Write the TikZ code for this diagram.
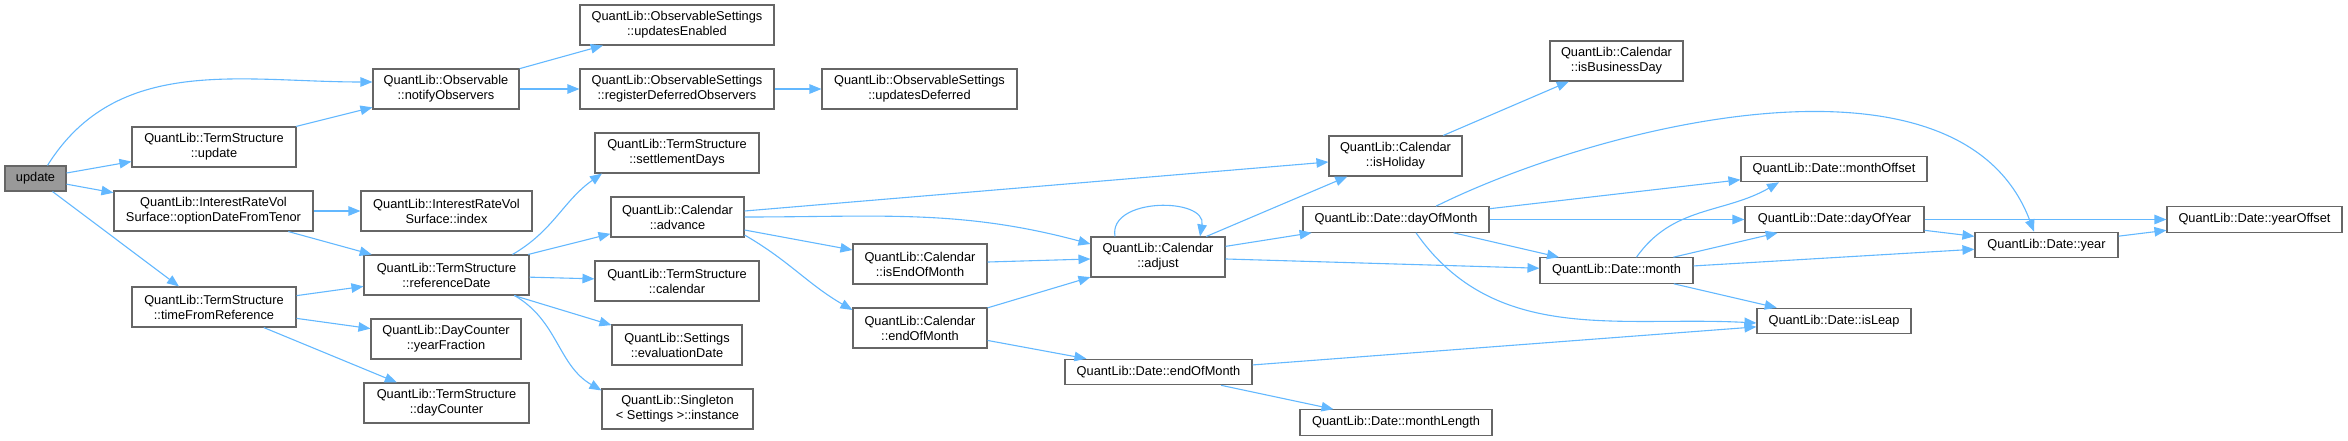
\documentclass[tikz,border=0pt]{standalone}
\usepackage{fontspec}
\setmainfont{Liberation Sans}
\usetikzlibrary{arrows.meta}
\usepackage{xcolor}
\definecolor{edgeblue}{HTML}{63B8FF}
\definecolor{boxgrey}{HTML}{666666}
\definecolor{rootgrey}{HTML}{999999}
\newcommand{\fn}[6][]{% name x y width: doxygen box
  \node[fn,minimum width=#5pt,#1] (#2) at (#3,#4) {#6};}

\begin{document}
\begin{tikzpicture}[x=1pt,y=-1pt,
  fn/.style={draw=boxgrey,line width=1.1pt,fill=white,align=center,inner sep=0pt,
    minimum height=40pt,font=\fontsize{12.8}{15}\selectfont},
  oneline/.style={minimum height=25.5pt},
  root/.style={fill=rootgrey,minimum height=25pt},
  call/.style={draw=edgeblue,line width=1.1pt,-{Triangle[length=12pt,width=9.5pt]}}]
  \useasboundingbox (0,0) rectangle (2348,441);
  \fn[root]{upd}{35.5}{178.5}{61}{update}
  \fn{tsUpdate}{214}{147}{164}{QuantLib::TermStructure\\::update}
  \fn{notify}{446}{89}{146}{QuantLib::Observable\\::notifyObservers}
  \fn{updEnabled}{677}{25}{194}{QuantLib::ObservableSettings\\::updatesEnabled}
  \fn{regDeferred}{677}{89}{194}{QuantLib::ObservableSettings\\::registerDeferredObservers}
  \fn{updDeferred}{919.5}{89}{195}{QuantLib::ObservableSettings\\::updatesDeferred}
  \fn{optDate}{213.5}{211}{199}{QuantLib::InterestRateVol\\Surface::optionDateFromTenor}
  \fn{volIndex}{446.5}{211}{171}{QuantLib::InterestRateVol\\Surface::index}
  \fn{refDate}{446.5}{275}{165}{QuantLib::TermStructure\\::referenceDate}
  \fn{timeFromRef}{214}{307}{164}{QuantLib::TermStructure\\::timeFromReference}
  \fn{yearFrac}{446}{339}{150}{QuantLib::DayCounter\\::yearFraction}
  \fn{dayCounter}{446.5}{403}{165}{QuantLib::TermStructure\\::dayCounter}
  \fn{settleDays}{677}{153}{164}{QuantLib::TermStructure\\::settlementDays}
  \fn{advance}{677.5}{217}{133}{QuantLib::Calendar\\::advance}
  \fn{tsCalendar}{677}{281}{164}{QuantLib::TermStructure\\::calendar}
  \fn{evalDate}{677}{345}{130}{QuantLib::Settings\\::evaluationDate}
  \fn{instance}{677.5}{409}{151}{QuantLib::Singleton\\< Settings >::instance}
  \fn{isEOM}{920}{264}{134}{QuantLib::Calendar\\::isEndOfMonth}
  \fn{calEOM}{920}{328}{134}{QuantLib::Calendar\\::endOfMonth}
  \fn{adjust}{1158}{257}{134}{QuantLib::Calendar\\::adjust}
  \fn[oneline]{dateEOM}{1158.5}{372}{187}{QuantLib::Date::endOfMonth}
  \fn{isHoliday}{1395.5}{156}{133}{QuantLib::Calendar\\::isHoliday}
  \fn{isBusDay}{1616.5}{61}{133}{QuantLib::Calendar\\::isBusinessDay}
  \fn[oneline]{dayOfMonth}{1396}{219.5}{186}{QuantLib::Date::dayOfMonth}
  \fn[oneline]{monthLength}{1396}{422.5}{192}{QuantLib::Date::monthLength}
  \fn[oneline]{month}{1616.5}{270.5}{153}{QuantLib::Date::month}
  \fn[oneline]{monthOffset}{1834}{169}{186}{QuantLib::Date::monthOffset}
  \fn[oneline]{dayOfYear}{1834.5}{219.5}{179}{QuantLib::Date::dayOfYear}
  \fn[oneline]{isLeap}{1834}{321}{154}{QuantLib::Date::isLeap}
  \fn[oneline]{year}{2046.5}{245}{143}{QuantLib::Date::year}
  \fn[oneline]{yearOffset}{2254.5}{219.5}{175}{QuantLib::Date::yearOffset}
  % calls
  \draw[call] ([xshift=12pt]upd.north) to[out=58,in=180] ([yshift=7pt]notify.west);
  \draw[call] (upd) -- (tsUpdate);
  \draw[call] (upd) -- (optDate);
  \draw[call] ([xshift=17pt]upd.south) -- ([xshift=-35pt]timeFromRef.north);
  \draw[call] (tsUpdate) -- (notify);
  \draw[call] (notify) -- (updEnabled);
  \draw[call] (notify) -- (regDeferred);
  \draw[call] (regDeferred) -- (updDeferred);
  \draw[call] (optDate) -- (volIndex);
  \draw[call] (optDate) -- (refDate);
  \draw[call] (timeFromRef) -- (refDate);
  \draw[call] (timeFromRef) -- (yearFrac);
  \draw[call] (timeFromRef) -- (dayCounter);
  \draw[call] ([xshift=66pt]refDate.north) to[out=30,in=215] ([xshift=-75pt]settleDays.south);
  \draw[call] (refDate) -- (advance);
  \draw[call] (refDate) -- (tsCalendar);
  \draw[call] (refDate) -- (evalDate);
  \draw[call] ([xshift=68pt]refDate.south) to[out=-30,in=150] ([yshift=-2pt]instance.north west);
  \draw[call] ([yshift=6pt]advance.east) -- ([yshift=-6pt]isHoliday.west);
  \draw[call] (advance.east) to[out=0,in=165] ([yshift=13pt]adjust.west);
  \draw[call] ([yshift=-13pt]advance.east) -- ([yshift=14pt]isEOM.west);
  \draw[call] ([yshift=-18pt]advance.east) to[out=-30,in=150] ([yshift=18pt]calEOM.west);
  \draw[call] (isEOM) -- (adjust);
  \draw[call] (calEOM) -- (adjust);
  \draw[call] (calEOM) -- (dateEOM);
  \draw[call] ([xshift=-43pt]adjust.north) .. controls +(100:40pt) and +(80:40pt) .. ([xshift=42pt]adjust.north);
  \draw[call] (adjust) -- (isHoliday);
  \draw[call] (adjust) -- (dayOfMonth);
  \draw[call] (adjust) -- (month);
  \draw[call] (dateEOM) -- (isLeap);
  \draw[call] (dateEOM) -- (monthLength);
  \draw[call] (isHoliday) -- (isBusDay);
  \draw[call] ([xshift=40pt]dayOfMonth.north) .. controls (1600,125) and (1960,35) .. ([xshift=-12.5pt]year.north);
  \draw[call] (dayOfMonth) -- (monthOffset);
  \draw[call] (dayOfMonth) -- (dayOfYear);
  \draw[call] (dayOfMonth) -- (month);
  \draw[call] ([xshift=20pt]dayOfMonth.south) to[out=-55,in=177] ([yshift=-2pt]isLeap.west);
  \draw[call] ([xshift=20pt]month.north) to[out=55,in=-150] ([xshift=-55pt]monthOffset.south);
  \draw[call] (month) -- (dayOfYear);
  \draw[call] (month) -- (year);
  \draw[call] (month) -- (isLeap);
  \draw[call] (dayOfYear) -- (yearOffset);
  \draw[call] (dayOfYear) -- (year);
  \draw[call] (year) -- (yearOffset);
\end{tikzpicture}
\end{document}
